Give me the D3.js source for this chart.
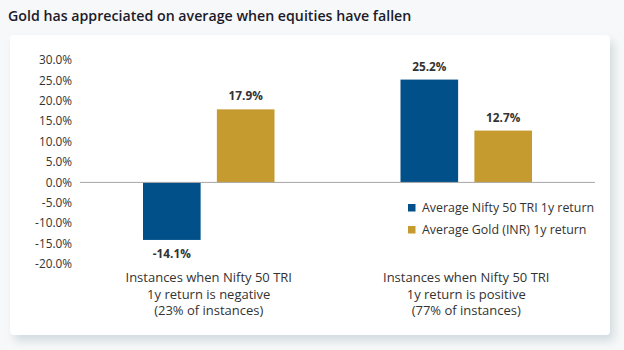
<!DOCTYPE html>
<html>
<head>
<meta charset="utf-8">
<script src="https://cdn.jsdelivr.net/npm/d3@7"></script>
<style>
  body { margin: 0; background: #f7f8f9; font-family: "Open Sans", sans-serif; }
  svg { display: block; }
</style>
</head>
<body>
<div id="chart"></div>
<script>
const width = 624;
const height = 350;

const categories = [
  ["Instances when Nifty 50 TRI", "1y return is negative", "(23% of instances)"],
  ["Instances when Nifty 50 TRI", "1y return is positive", "(77% of instances)"]
];
const seriesNames = ["Average Nifty 50 TRI 1y return", "Average Gold (INR) 1y return"];
const niftyValues = [-14.1, 25.2];
const goldValues = [17.9, 12.7];
const yTicks = [30, 25, 20, 15, 10, 5, 0, -5, -10, -15, -20];

const colors = ["#01508a", "#c59b30"];

const svg = d3.select("#chart")
  .append("svg")
  .attr("width", width)
  .attr("height", height);

const defs = svg.append("defs");
const shadow = defs.append("filter")
  .attr("id", "shadow")
  .attr("x", "-10%").attr("y", "-10%")
  .attr("width", "120%").attr("height", "130%");
shadow.append("feDropShadow")
  .attr("dx", 4).attr("dy", 6)
  .attr("stdDeviation", 5)
  .attr("flood-color", "#b9c9cf")
  .attr("flood-opacity", 0.6);

// title
svg.append("text")
  .attr("x", 8)
  .attr("y", 21)
  .attr("font-size", 14.2)
  .attr("font-weight", 600)
  .attr("fill", "#1b1b2b")
  .text("Gold has appreciated on average when equities have fallen");

// card
svg.append("rect")
  .attr("x", 10)
  .attr("y", 35)
  .attr("width", 600)
  .attr("height", 300)
  .attr("rx", 4)
  .attr("fill", "#ffffff")
  .attr("filter", "url(#shadow)");

const x = d3.scaleBand()
  .domain(d3.range(categories.length))
  .range([80, 595]);

const inner = d3.scaleBand()
  .domain([0, 1])
  .range([63, 194.5])
  .paddingInner(0.22);

const y = d3.scaleLinear()
  .domain([-20, 30])
  .range([264, 60]);

// y tick labels
svg.append("g")
  .selectAll("text")
  .data(yTicks)
  .join("text")
  .attr("x", 72)
  .attr("y", d => y(d))
  .attr("dy", "0.35em")
  .attr("text-anchor", "end")
  .attr("font-size", 11.8)
  .attr("fill", "#333")
  .text(d => d.toFixed(1) + "%");

const series = [niftyValues, goldValues];
const bars = [];
categories.forEach((c, i) => {
  series.forEach((vals, s) => {
    bars.push({ cat: i, s, v: vals[i] });
  });
});

svg.append("g")
  .selectAll("rect")
  .data(bars)
  .join("rect")
  .attr("x", d => x(d.cat) + inner(d.s))
  .attr("width", inner.bandwidth())
  .attr("y", d => y(Math.max(0, d.v)))
  .attr("height", d => Math.abs(y(d.v) - y(0)))
  .attr("fill", d => colors[d.s]);

// zero line
svg.append("line")
  .attr("x1", 80)
  .attr("x2", 595)
  .attr("y1", y(0))
  .attr("y2", y(0))
  .attr("stroke", "#a6a6a6")
  .attr("stroke-width", 1);

// value labels
svg.append("g")
  .selectAll("text")
  .data(bars)
  .join("text")
  .attr("x", d => x(d.cat) + inner(d.s) + inner.bandwidth() / 2)
  .attr("y", d => d.v >= 0 ? y(d.v) - 9 : y(d.v) + 18)
  .attr("text-anchor", "middle")
  .attr("font-size", 11.8)
  .attr("font-weight", 700)
  .attr("fill", "#333")
  .text(d => d.v.toFixed(1) + "%");

// category labels
const catG = svg.append("g")
  .selectAll("text")
  .data(categories)
  .join("text")
  .attr("x", (d, i) => x(i) + x.bandwidth() / 2)
  .attr("y", 282)
  .attr("text-anchor", "middle")
  .attr("font-size", 13)
  .attr("fill", "#333");

catG.selectAll("tspan")
  .data(d => d)
  .join("tspan")
  .attr("x", function () { return d3.select(this.parentNode).attr("x"); })
  .attr("dy", (d, i) => i === 0 ? 0 : 16.5)
  .text(d => d);

// legend
const legend = svg.append("g")
  .selectAll("g")
  .data(seriesNames)
  .join("g")
  .attr("transform", (d, i) => `translate(408,${204 + i * 22})`);

legend.append("rect")
  .attr("width", 7.5)
  .attr("height", 7.5)
  .attr("fill", (d, i) => colors[i]);

legend.append("text")
  .attr("x", 14)
  .attr("y", 4)
  .attr("dy", "0.35em")
  .attr("font-size", 12.4)
  .attr("fill", "#333")
  .text(d => d);
</script>
</body>
</html>
